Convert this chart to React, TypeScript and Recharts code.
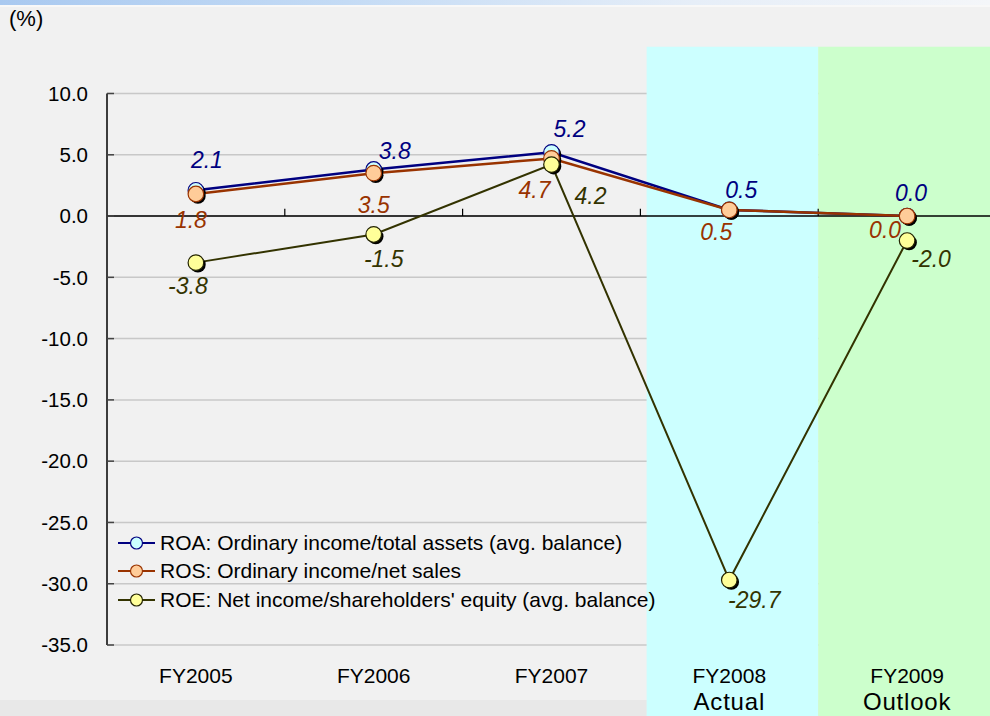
import React from 'react';
import {
  LineChart,
  Line,
  XAxis,
  YAxis,
  CartesianGrid,
  ReferenceArea,
  ReferenceLine,
  LabelList,
  Legend,
} from 'recharts';

const FONT = '"Liberation Sans", Arial, Helvetica, sans-serif';

// ---- data ----
const categories = ['FY2005', 'FY2006', 'FY2007', 'FY2008', 'FY2009'];
const subLabels = ['', '', '', 'Actual', 'Outlook'];
const roa = [2.1, 3.8, 5.2, 0.5, 0.0];
const ros = [1.8, 3.5, 4.7, 0.5, 0.0];
const roe = [-3.8, -1.5, 4.2, -29.7, -2.0];
const yTicks = [10, 5, 0, -5, -10, -15, -20, -25, -30, -35];
const categoryBoundaries = [0.5, 1.5, 2.5, 3.5];
const seriesNames = [
  'ROA: Ordinary income/total assets (avg. balance)',
  'ROS: Ordinary income/net sales',
  "ROE: Net income/shareholders' equity (avg. balance)",
];

// ---- layout (label offsets in px, relative to the point) ----
const roaLabelOffsets = [[11, -31], [21, -19], [18, -24], [12, -20], [4, -23]];
const rosLabelOffsets = [[-5, 26], [0, 32], [-17, 31], [-13, 22], [-22, 14]];
const roeLabelOffsets = [[-8, 23], [10, 24], [39, 31], [25, 20], [24, 18]];

const styles = [
  { key: 'roa', line: '#000080', fill: '#ccffff', dotStroke: '#000080', label: '#000080', width: 2.5 },
  { key: 'ros', line: '#993300', fill: '#ffcc99', dotStroke: '#993300', label: '#993300', width: 2.5 },
  { key: 'roe', line: '#333300', fill: '#ffff99', dotStroke: '#222200', label: '#333300', width: 2 },
];

const data = categories.map((c, i) => ({
  idx: i,
  cat: c,
  roa: roa[i],
  ros: ros[i],
  roe: roe[i],
}));

const makeDot = (fill: string, stroke: string) => (props: any) => {
  const { cx, cy, index } = props;
  if (cx == null || cy == null) return <g key={`e${index}`} />;
  return (
    <g key={`d${index}`}>
      <circle cx={cx + 2} cy={cy + 2} r={7.8} fill="#000" />
      <circle cx={cx} cy={cy} r={7.8} fill={fill} stroke={stroke} strokeWidth={1.2} />
    </g>
  );
};

const makeLabel = (color: string, offsets: number[][]) => (props: any) => {
  const { x, y, value, index } = props;
  const [dx, dy] = offsets[index] || [0, 0];
  return (
    <text
      key={`l${index}`}
      x={x + dx}
      y={y + dy}
      dy="0.36em"
      textAnchor="middle"
      fill={color}
      fontSize={23}
      fontStyle="italic"
      fontFamily={FONT}
    >
      {Number(value).toFixed(1)}
    </text>
  );
};

const XTick = (props: any) => {
  const { x, y, payload } = props;
  const i = payload.value as number;
  return (
    <g>
      <text x={x} y={y + 38} textAnchor="middle" fill="#000" fontSize={21} fontFamily={FONT}>
        {categories[i]}
      </text>
      {subLabels[i] ? (
        <text
          x={x}
          y={y + 65}
          textAnchor="middle"
          fill="#000"
          fontSize={24}
          letterSpacing={0.8}
          fontFamily={FONT}
        >
          {subLabels[i]}
        </text>
      ) : null}
    </g>
  );
};

const LegendContent = () => (
  <div style={{ fontFamily: FONT, fontSize: 21, color: '#000' }}>
    {styles.map((s, i) => (
      <div key={s.key} style={{ display: 'flex', alignItems: 'center', height: 28.3, whiteSpace: 'nowrap' }}>
        <svg width={37} height={20} style={{ marginRight: 5, flex: 'none' }}>
          <line x1={0} y1={10} x2={37} y2={10} stroke={s.line} strokeWidth={2.2} />
          <circle cx={18.5} cy={10} r={6} fill={s.fill} stroke={s.dotStroke} strokeWidth={1.2} />
        </svg>
        <span>{seriesNames[i]}</span>
      </div>
    ))}
  </div>
);

export default function App() {
  return (
    <div
      style={{
        position: 'absolute',
        left: 0,
        top: 0,
        width: 990,
        height: 716,
        overflow: 'hidden',
        background: '#f1f1f1',
        fontFamily: FONT,
      }}
    >
      <div
        style={{
          position: 'absolute',
          left: 0,
          top: 0,
          width: 990,
          height: 5,
          background: 'linear-gradient(to right, #a9c9f0 0%, #c4dbf5 35%, #e6eef8 70%, #f4f6f9 100%)',
        }}
      />
      <div style={{ position: 'absolute', left: 0, top: 5, width: 990, height: 2, background: '#f8f8f8' }} />
      <div style={{ position: 'absolute', left: 0, top: 700, width: 990, height: 16, background: '#e8e8e8' }} />
      <div style={{ position: 'absolute', left: 0, top: 0 }}>
        <LineChart
          width={996}
          height={716}
          data={data}
          margin={{ top: 93.5, right: 0, bottom: 0, left: 0 }}
        >
          <ReferenceArea
            x1={2.535}
            x2={3.5}
            y1={-42}
            y2={13.82}
            fill="#ccffff"
            fillOpacity={1}
            stroke="none"
            ifOverflow="visible"
          />
          <ReferenceArea
            x1={3.5}
            x2={4.5}
            y1={-42}
            y2={13.82}
            fill="#ccffcc"
            fillOpacity={1}
            stroke="none"
            ifOverflow="visible"
          />
          <CartesianGrid vertical={false} stroke="#c8c8c8" strokeWidth={1.5} />
          <XAxis
            dataKey="idx"
            type="number"
            domain={[-0.5, 4.5]}
            ticks={[0, 1, 2, 3, 4]}
            interval={0}
            tick={<XTick />}
            tickLine={false}
            axisLine={false}
            tickSize={0}
            tickMargin={0}
            height={71}
          />
          <YAxis
            type="number"
            domain={[-35, 10]}
            ticks={yTicks}
            interval={0}
            width={107}
            tickFormatter={(v: number) => v.toFixed(1)}
            axisLine={{ stroke: '#000', strokeWidth: 1.5 }}
            tickLine={{ stroke: '#444', strokeWidth: 1.5 }}
            tickSize={-7}
            tickMargin={26}
            tick={{ fill: '#000', fontSize: 20.5, fontFamily: FONT }}
          />
          <ReferenceLine y={0} stroke="#000" strokeWidth={1.5} />
          {categoryBoundaries.map((b) => (
            <ReferenceLine
              key={b}
              segment={[
                { x: b, y: 0 },
                { x: b, y: 0.6 },
              ]}
              stroke="#000"
              strokeWidth={1.2}
              ifOverflow="visible"
            />
          ))}
          <Legend
            layout="vertical"
            align="center"
            verticalAlign="middle"
            wrapperStyle={{ position: 'absolute', left: 118, top: 529, width: 580 }}
            content={<LegendContent />}
          />
          <Line
            dataKey="roa"
            name={seriesNames[0]}
            stroke={styles[0].line}
            strokeWidth={styles[0].width}
            dot={makeDot(styles[0].fill, styles[0].dotStroke)}
            activeDot={false}
            isAnimationActive={false}
          >
            <LabelList dataKey="roa" content={makeLabel(styles[0].label, roaLabelOffsets)} />
          </Line>
          <Line
            dataKey="ros"
            name={seriesNames[1]}
            stroke={styles[1].line}
            strokeWidth={styles[1].width}
            dot={makeDot(styles[1].fill, styles[1].dotStroke)}
            activeDot={false}
            isAnimationActive={false}
          >
            <LabelList dataKey="ros" content={makeLabel(styles[1].label, rosLabelOffsets)} />
          </Line>
          <Line
            dataKey="roe"
            name={seriesNames[2]}
            stroke={styles[2].line}
            strokeWidth={styles[2].width}
            dot={makeDot(styles[2].fill, styles[2].dotStroke)}
            activeDot={false}
            isAnimationActive={false}
          >
            <LabelList dataKey="roe" content={makeLabel(styles[2].label, roeLabelOffsets)} />
          </Line>
        </LineChart>
      </div>
      <div
        style={{
          position: 'absolute',
          left: 9,
          top: 7,
          fontSize: 22,
          lineHeight: '24px',
          color: '#000',
          fontFamily: FONT,
        }}
      >
        (%)
      </div>
    </div>
  );
}
